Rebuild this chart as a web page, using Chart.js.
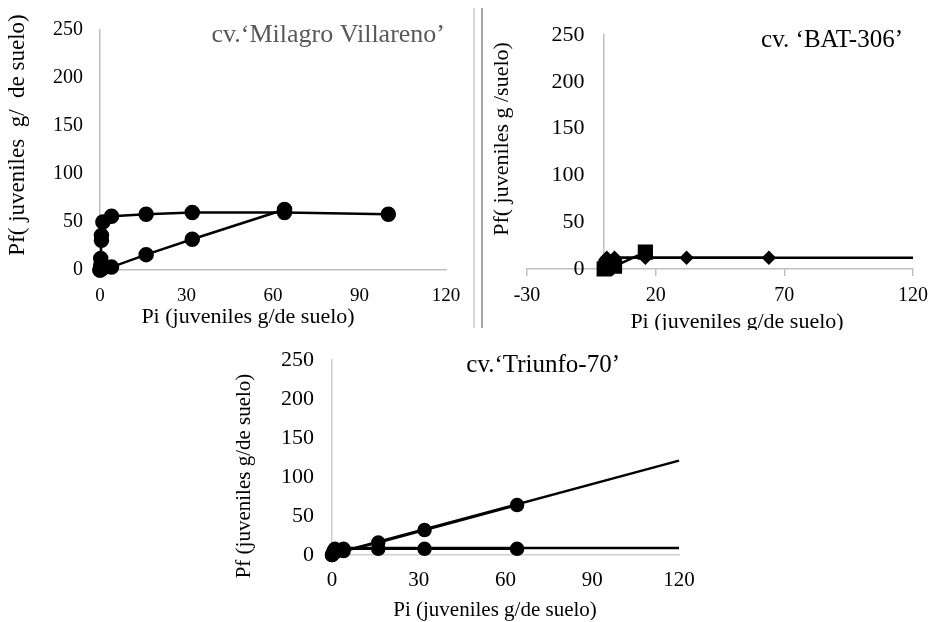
<!DOCTYPE html>
<html>
<head>
<meta charset="utf-8">
<script src="https://cdn.jsdelivr.net/npm/chart.js@4.4.1/dist/chart.umd.min.js"></script>
<style>
  body { margin: 0; background: #fff; }
  .panel { position: absolute; overflow: hidden; }
  .sep { position: absolute; top: 8px; height: 320px; width: 2px; }
</style>
</head>
<body>
<div class="panel" style="left:0;top:0;width:470px;height:330px"><canvas id="c1"></canvas></div>
<div class="sep" style="left:473px;background:#d6d6d6"></div>
<div class="sep" style="left:481px;background:#a8a8a8"></div>
<div class="panel" style="left:484px;top:0;width:452px;height:330px">
  <div style="position:relative;width:452px;height:338px"><canvas id="c2"></canvas></div>
</div>
<div class="panel" style="left:230px;top:330px;width:480px;height:292px"><canvas id="c3"></canvas></div>
<script>
// cv. Milagro Villareno
const mvPiA = [0, 0.25, 0.25, 0.5, 0.5, 1, 4, 16, 32, 64, 100];
const mvPfA = [0, 5, 12, 31, 36, 50, 56, 58, 60, 60, 58];
const mvPiB = [0, 0.5, 1, 4, 16, 32, 64];
const mvPfB = [0, 1, 2, 3, 16, 32, 63];

// cv. BAT-306
const batPiDiamond = [0, 0.5, 1, 4, 16, 32, 64];
const batPfDiamond = [6, 10, 12, 12, 12, 12, 12];
const batPiSquare = [0, 0.5, 1, 4, 16];
const batPfSquare = [0, 1, 2, 3, 18];
const batTrendPi = [0, 120];
const batTrendPf = [12, 12];

// cv. Triunfo-70
const trPiA = [0, 0.5, 1, 4, 16, 32, 64];
const trPfA = [0, 2, 3, 5, 16, 32, 64];
const trTrendAPi = [0, 120];
const trTrendAPf = [1, 121];
const trPiB = [0, 0.5, 1, 4, 16, 32, 64];
const trPfB = [0, 5, 8, 8, 8, 8, 8];
const trTrendBPi = [0, 120];
const trTrendBPf = [9, 9];

const yTicks = [0, 50, 100, 150, 200, 250];

const serif = "'Liberation Serif', 'Times New Roman', serif";
Chart.defaults.font.family = serif;
Chart.defaults.color = "#000";
Chart.defaults.animation = false;

const pts = (xs, ys) => xs.map((x, i) => ({ x, y: ys[i] }));
const axisGray = "#bfbfbf";

// draws panel titles and axis titles
const labelText = {
  id: "labelText",
  afterDraw(chart, args, opts) {
    const ctx = chart.ctx;
    (opts.items || []).forEach((it) => {
      ctx.save();
      ctx.font = `${it.size}px ${serif}`;
      ctx.fillStyle = it.color || "#000";
      ctx.textAlign = it.align || "center";
      ctx.textBaseline = it.baseline || "alphabetic";
      ctx.translate(it.x, it.y);
      if (it.rotate) ctx.rotate(-Math.PI / 2);
      ctx.fillText(it.text, 0, 0);
      ctx.restore();
    });
  }
};

function series(data, opts = {}) {
  return Object.assign({
    data,
    showLine: true,
    borderColor: "#000",
    backgroundColor: "#000",
    borderWidth: 2.5,
    pointRadius: 6.5,
    pointStyle: "circle",
    clip: false
  }, opts);
}

function yAxis(size, padding, extra = {}) {
  return Object.assign({
    type: "linear",
    min: 0,
    max: 250,
    afterBuildTicks: (s) => { s.ticks = yTicks.map((v) => ({ value: v })); },
    grid: { display: false },
    border: { color: axisGray, width: 1.5 },
    ticks: { font: { size }, padding }
  }, extra);
}

const baseOptions = (padding, items, scales) => ({
  responsive: true,
  maintainAspectRatio: false,
  layout: { padding },
  plugins: {
    legend: { display: false },
    tooltip: { enabled: false },
    labelText: { items }
  },
  scales
});

// Panel 1
new Chart(document.getElementById("c1"), {
  type: "scatter",
  data: {
    datasets: [
      series(pts(mvPiA, mvPfA)),
      series(pts(mvPiB, mvPfB))
    ]
  },
  plugins: [labelText],
  options: baseOptions(
    { top: 30, right: 24, left: 0, bottom: 0 },
    [
      { text: "cv.‘Milagro Villareno’", x: 445, y: 42, align: "right", size: 26, color: "#595959" },
      { text: "Pf( juveniles  g/  de suelo)", x: 18, y: 135, rotate: true, baseline: "middle", size: 23 },
      { text: "Pi (juveniles g/de suelo)", x: 248, y: 323, size: 22 }
    ],
    {
      x: {
        type: "linear",
        min: 0,
        max: 120,
        ticks: { stepSize: 30, font: { size: 19 }, padding: 7 },
        grid: { display: false },
        border: { color: axisGray, width: 1.5 },
        afterFit: (s) => { s.height = 60; }
      },
      y: yAxis(20, 9, { afterFit: (s) => { s.width = 100; } })
    }
  )
});

// Panel 2
new Chart(document.getElementById("c2"), {
  type: "scatter",
  data: {
    datasets: [
      series(pts(batTrendPi, batTrendPf), { pointRadius: 0 }),
      series(pts(batPiDiamond, batPfDiamond), { pointStyle: "rectRot", pointRadius: 5.5 }),
      series(pts(batPiSquare, batPfSquare), { pointStyle: "rect", pointRadius: 9 })
    ]
  },
  plugins: [labelText],
  options: baseOptions(
    { top: 35, right: 21, left: 43, bottom: 0 },
    [
      { text: "cv. ‘BAT-306’", x: 419, y: 47, align: "right", size: 25 },
      { text: "Pf( juveniles g /suelo)", x: 18, y: 139, rotate: true, baseline: "middle", size: 22 },
      { text: "Pi (juveniles g/de suelo)", x: 253, y: 328, size: 22 }
    ],
    {
      x: {
        type: "linear",
        min: -30,
        max: 120,
        ticks: { stepSize: 50, font: { size: 20 }, padding: 8 },
        grid: { display: true, drawOnChartArea: false, drawTicks: true, tickLength: 7, color: axisGray, lineWidth: 1.5 },
        border: { color: axisGray, width: 1.5 },
        afterFit: (s) => { s.height = 69; }
      },
      // labels sit right-aligned on the axis line, so pad them with trailing spaces
      y: yAxis(22, 0, {
        position: { x: 0 },
        ticks: { font: { size: 22 }, callback: (v) => v + "\u2002\u2009\u2009" }
      })
    }
  )
});

// Panel 3
new Chart(document.getElementById("c3"), {
  type: "scatter",
  data: {
    datasets: [
      series(pts(trTrendAPi, trTrendAPf), { pointRadius: 0 }),
      series(pts(trTrendBPi, trTrendBPf), { pointRadius: 0 }),
      series(pts(trPiA, trPfA), { pointRadius: 6 }),
      series(pts(trPiB, trPfB), { pointRadius: 6 })
    ]
  },
  plugins: [labelText],
  options: baseOptions(
    { top: 30, right: 31, left: 0, bottom: 0 },
    [
      { text: "cv.‘Triunfo-70’", x: 390, y: 42, align: "right", size: 25 },
      { text: "Pf (juveniles g/de suelo)", x: 14, y: 146, rotate: true, baseline: "middle", size: 21 },
      { text: "Pi (juveniles g/de suelo)", x: 265, y: 286, size: 21 }
    ],
    {
      x: {
        type: "linear",
        min: 0,
        max: 120,
        ticks: { stepSize: 30, font: { size: 21 }, padding: 5 },
        grid: { display: false },
        border: { color: "#d0d0d0", width: 1.5 },
        afterFit: (s) => { s.height = 67; }
      },
      y: yAxis(22, 10, { border: { color: "#d0d0d0", width: 1.5 }, afterFit: (s) => { s.width = 102; } })
    }
  )
});
</script>
</body>
</html>
